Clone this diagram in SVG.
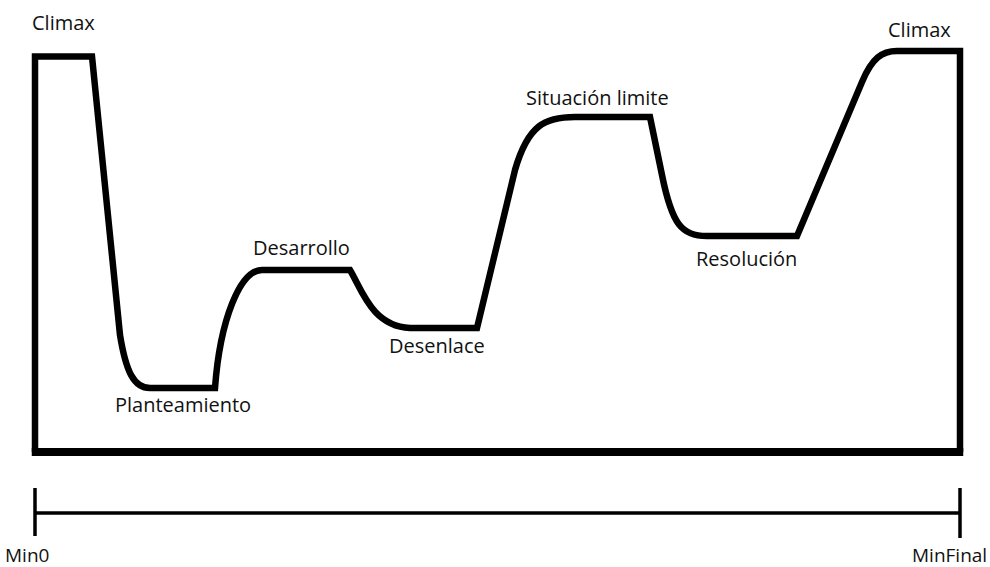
<svg xmlns="http://www.w3.org/2000/svg" width="990" height="567" viewBox="0 0 990 567">
<style>
.t{font-family:"Open Sans","Noto Sans",sans-serif;font-size:20px;fill:#111}
.s{font-size:19px}
.c{fill:none;stroke:#000;stroke-width:6.5;stroke-linejoin:miter}
.a{fill:none;stroke:#000;stroke-width:3.5}
</style>
<rect width="990" height="567" fill="#fff"/>
<g id="curve">
<path class="c" d="M35,452 V56.5 H92 L120,335 C126,372 134,388 150,388 H215 C220,320 240,270 262,270 H350 C362,290 372,326 410,328 H477 L515,170 C528,125 545,117 575,117 H650 L662,175 C672,225 682,236 707,236 H797 L862,82 C872,58 882,51 897,51 H960 V452"/>
<line x1="31.75" y1="452" x2="963.25" y2="452" stroke="#000" stroke-width="8"/>
</g>
<g id="timeline">
<line class="a" x1="35" y1="513" x2="960" y2="513"/>
<line class="a" x1="35" y1="488" x2="35" y2="536"/>
<line class="a" x1="960" y1="488" x2="960" y2="538"/>
</g>
<g id="labels">
<text class="t" x="32" y="30">Climax</text>
<text class="t" x="888" y="37">Climax</text>
<text class="t" x="253" y="255">Desarrollo</text>
<text class="t" x="115" y="412">Planteamiento</text>
<text class="t" x="526" y="105">Situación limite</text>
<text class="t" x="389" y="353">Desenlace</text>
<text class="t" x="696" y="266">Resolución</text>
<text class="t s" x="5" y="562">Min0</text>
<text class="t s" x="912" y="562">MinFinal</text>
</g>
</svg>
